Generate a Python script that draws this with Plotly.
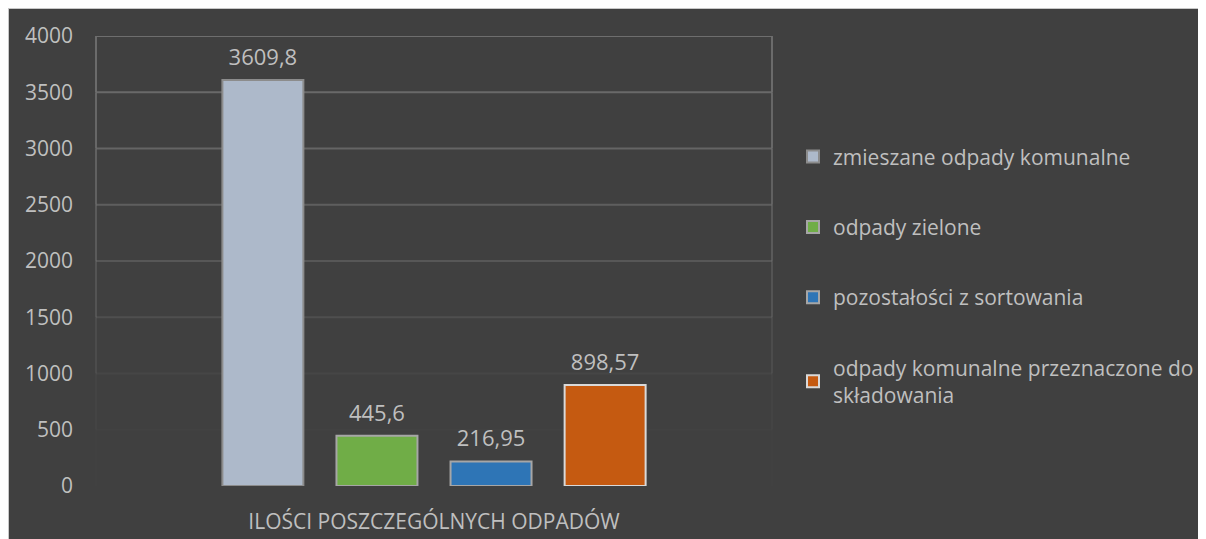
import plotly.graph_objects as go

category = ["ILOŚCI POSZCZEGÓLNYCH ODPADÓW"]
series_names = [
    "zmieszane odpady komunalne",
    "odpady zielone",
    "pozostałości z sortowania",
    "odpady komunalne przeznaczone do<br>składowania",
]
series_values = [3609.8, 445.6, 216.95, 898.57]
series_colors = ["#ADB9CA", "#70AD47", "#2E75B6", "#C55A11"]
outline_colors = ["#8c8c8c", "#a6a6a6", "#a6a6a6", "#d9d9d9"]
y_ticks = [0, 500, 1000, 1500, 2000, 2500, 3000, 3500, 4000]
grid_alpha = [0.0, 0.05, 0.15, 0.35, 0.5, 0.65, 0.8, 0.9, 1.0]

FONT = "Open Sans"
TXT = "#bfbfbf"
BG = "#404040"

W, H = 1206, 539
L, R, T, B = 88, 442, 28, 59
pw, ph = W - L - R, H - T - B

def px2x(p):
    return (p - L) / pw

def py2y(p):
    return (H - B - p) / ph

fig = go.Figure()
for i, (name, val) in enumerate(zip(series_names, series_values)):
    fig.add_trace(go.Bar(
        x=category, y=[val], name=name,
        marker=dict(color=series_colors[i], line=dict(color=outline_colors[i], width=2)),
        legendgroup=f"g{i}", hoverinfo="skip",
    ))
for i, val in enumerate(series_values):
    label = f"{val:g}".replace(".", ",")
    fig.add_trace(go.Scatter(
        x=category, y=[val], mode="markers+text", text=[label],
        textposition="top center", cliponaxis=False,
        marker=dict(size=14, opacity=0),
        textfont=dict(color=TXT, size=22, family=FONT),
        legendgroup=f"g{i}", showlegend=False, hoverinfo="skip",
    ))

shapes = [
    dict(type="rect", xref="paper", yref="paper", layer="above",
         x0=px2x(0), x1=px2x(W + 4), y0=py2y(H + 4), y1=py2y(0),
         line=dict(color="#c8c8c8", width=2)),
]
# fading gridlines and frame
for k, (v, a) in enumerate(zip(y_ticks, grid_alpha)):
    if a <= 0:
        continue
    col = f"rgba(110,110,110,{a})"
    shapes.append(dict(type="line", xref="paper", yref="y", x0=0, x1=1, y0=v, y1=v,
                       layer="below", line=dict(color=col, width=2)))
    if k > 0:
        for xx in (0, 1):
            shapes.append(dict(type="line", xref="paper", yref="y", x0=xx, x1=xx,
                               y0=y_ticks[k - 1], y1=v, layer="below",
                               line=dict(color=f"rgba(110,110,110,{(a + grid_alpha[k-1]) / 2})", width=2)))

fig.update_layout(
    width=W, height=H,
    margin=dict(l=L, r=R, t=T, b=B),
    paper_bgcolor=BG, plot_bgcolor=BG,
    barmode="group", bargap=0.325, bargroupgap=0.29,
    scattermode="group", scattergap=0.325,
    shapes=shapes,
    showlegend=True,
    legend=dict(x=px2x(785), xanchor="left", y=py2y(269), yanchor="middle",
                font=dict(color=TXT, size=21, family=FONT),
                traceorder="grouped", tracegroupgap=40,
                bgcolor="rgba(0,0,0,0)", itemwidth=30),
    xaxis=dict(showgrid=False, zeroline=False, showline=False,
               tickfont=dict(color=TXT, size=21, family=FONT), ticklabelstandoff=21),
    yaxis=dict(range=[0, 4000], tickvals=y_ticks, showgrid=False, zeroline=False,
               showline=False, tickfont=dict(color=TXT, size=21, family=FONT),
               ticklabelstandoff=22),
)

fig.write_html("out.html", config={"displayModeBar": False})
